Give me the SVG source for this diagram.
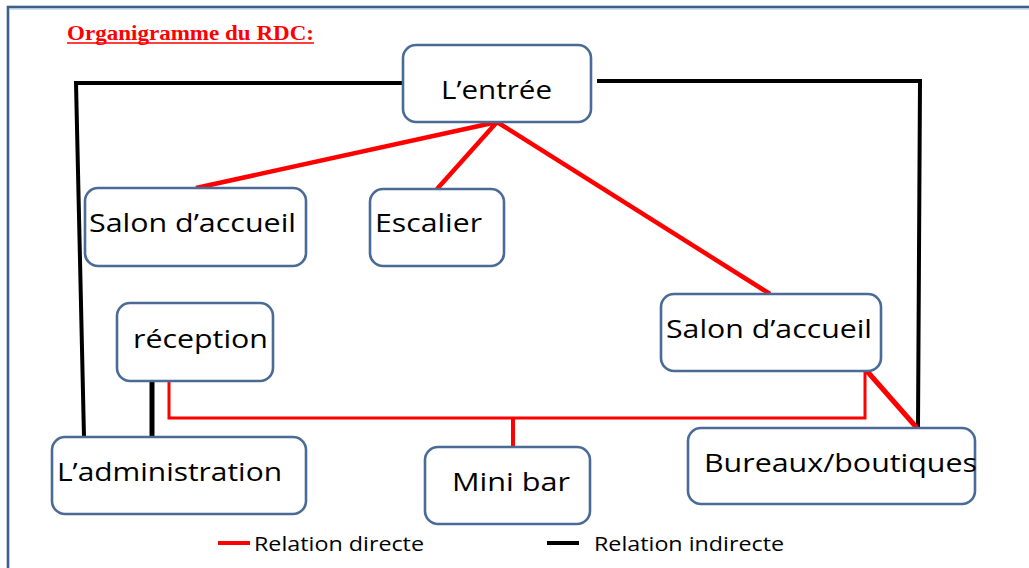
<svg xmlns="http://www.w3.org/2000/svg" width="1029" height="568" viewBox="0 0 1029 568">
<style>
.node rect{fill:#fff;stroke:#4A6B95;stroke-width:2.6}
.node text,.legend text{font-family:"Open Sans","DejaVu Sans",sans-serif;fill:#000}
.node text{font-size:26px}
.legend text{font-size:20px}
.red{stroke:#FF0000;fill:none}
.blk{stroke:#000;fill:none}
</style>
<rect width="1029" height="568" fill="#fff"/>
<rect x="8" y="7" width="1060" height="600" fill="none" stroke="#3D5F8C" stroke-width="2.6"/>
<line x1="9.5" y1="9" x2="1029" y2="9" stroke="#A9C0DA" stroke-width="1"/>
<g id="title">
<text x="67" y="40" font-family="Liberation Serif,serif" font-weight="bold" font-size="20" fill="#FF0000" textLength="247" lengthAdjust="spacingAndGlyphs">Organigramme du RDC:</text>
<line x1="67" y1="43" x2="314" y2="43" stroke="#FF0000" stroke-width="1.5"/>
</g>
<g id="connectors">
<polyline class="blk" stroke-width="4" points="403,83 76,83 84,437"/>
<polyline class="blk" stroke-width="4" points="597,81 920,81 918,428"/>
<line class="blk" stroke-width="5" x1="152" y1="381" x2="152" y2="437"/>
<line class="red" stroke-width="4.5" x1="497" y1="122" x2="196" y2="188"/>
<line class="red" stroke-width="4.5" x1="497" y1="122" x2="437" y2="189"/>
<line class="red" stroke-width="4.5" x1="497" y1="122" x2="770" y2="294"/>
<polyline class="red" stroke-width="3" points="169,381 169,418 865,418 865,371"/>
<line class="red" stroke-width="4" x1="513" y1="418" x2="513" y2="447"/>
<line class="red" stroke-width="5" x1="866" y1="370" x2="917" y2="428"/>
</g>
<g id="entree" class="node"><rect x="403" y="45" width="188" height="77" rx="13"/><text x="441" y="99" textLength="111" lengthAdjust="spacingAndGlyphs">L’entrée</text></g>
<g id="salon1" class="node"><rect x="85" y="188" width="221" height="78" rx="13"/><text x="89" y="232" textLength="207" lengthAdjust="spacingAndGlyphs">Salon d’accueil</text></g>
<g id="escalier" class="node"><rect x="370" y="189" width="134" height="77" rx="13"/><text x="375" y="232" textLength="107" lengthAdjust="spacingAndGlyphs">Escalier</text></g>
<g id="reception" class="node"><rect x="117" y="303" width="156" height="78" rx="13"/><text x="133" y="348" textLength="135" lengthAdjust="spacingAndGlyphs">réception</text></g>
<g id="salon2" class="node"><rect x="661" y="294" width="220" height="77" rx="13"/><text x="666" y="338" textLength="206" lengthAdjust="spacingAndGlyphs">Salon d’accueil</text></g>
<g id="administration" class="node"><rect x="52" y="437" width="254" height="77" rx="13"/><text x="57" y="481" textLength="225" lengthAdjust="spacingAndGlyphs">L’administration</text></g>
<g id="minibar" class="node"><rect x="425" y="447" width="165" height="77" rx="13"/><text x="452" y="491" textLength="118" lengthAdjust="spacingAndGlyphs">Mini bar</text></g>
<g id="bureaux" class="node"><rect x="688" y="428" width="287" height="76" rx="13"/><text x="704" y="472" textLength="273" lengthAdjust="spacingAndGlyphs">Bureaux/boutiques</text></g>
<g id="legend" class="legend">
<line x1="218" y1="543" x2="250" y2="543" stroke="#FF0000" stroke-width="4"/>
<text x="254" y="551" textLength="170" lengthAdjust="spacingAndGlyphs">Relation directe</text>
<line x1="547" y1="543" x2="579" y2="543" stroke="#000" stroke-width="4"/>
<text x="594" y="551" textLength="190" lengthAdjust="spacingAndGlyphs">Relation indirecte</text>
</g>
</svg>
